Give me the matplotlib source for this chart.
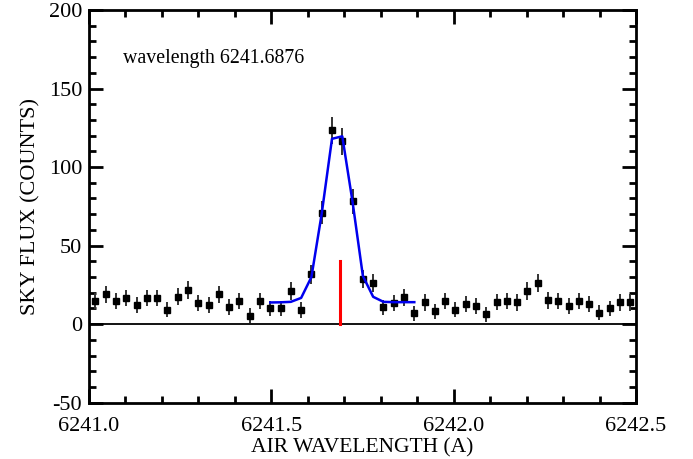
import numpy as np
import matplotlib
matplotlib.use('Agg')
import matplotlib.pyplot as plt
from matplotlib.ticker import MultipleLocator, FormatStrFormatter

plt.rcParams['font.family'] = ['Liberation Serif', 'DejaVu Serif']
plt.rcParams['axes.unicode_minus'] = False

line_center = 6241.6876
line_height = 40.0

# measured sky spectrum around the line
wave = [6241.0176, 6241.0458, 6241.0740, 6241.1022, 6241.1304, 6241.1587,
        6241.1869, 6241.2151, 6241.2433, 6241.2715, 6241.2997, 6241.3279,
        6241.3561, 6241.3843, 6241.4125, 6241.4408, 6241.4690, 6241.4972,
        6241.5254, 6241.5536, 6241.5818, 6241.6100, 6241.6382, 6241.6664,
        6241.6946, 6241.7229, 6241.7511, 6241.7793, 6241.8075, 6241.8357,
        6241.8639, 6241.8921, 6241.9203, 6241.9485, 6241.9767, 6242.0050,
        6242.0332, 6242.0614, 6242.0896, 6242.1178, 6242.1460, 6242.1742,
        6242.2024, 6242.2306, 6242.2588, 6242.2871, 6242.3153, 6242.3435,
        6242.3717, 6242.3999, 6242.4281, 6242.4563, 6242.4845]
flux = [14.6, 19.1, 14.6, 16.7, 12.5, 16.7, 16.7, 9.3, 17.3, 21.6, 13.2, 12.1,
        19.1, 10.8, 14.6, 5.5, 14.6, 10.0, 10.0, 21.0, 8.9, 31.8, 71.0, 123.3,
        116.3, 78.1, 28.6, 26.1, 10.6, 13.2, 17.0, 6.8, 13.8, 8.1, 14.6, 9.3,
        12.7, 11.4, 6.2, 14.2, 14.6, 13.8, 21.0, 26.2, 15.2, 14.6, 11.4, 14.8,
        12.7, 7.2, 10.0, 13.8, 13.8]
err = [5.2, 5.5, 5.2, 5.3, 5.1, 5.3, 5.3, 4.9, 5.4, 5.6, 5.1, 5.1,
       5.5, 5.0, 5.2, 4.6, 5.2, 5.0, 5.0, 5.6, 4.9, 6.0, 7.5, 8.8,
       8.5, 7.7, 5.9, 5.8, 5.0, 5.1, 5.3, 4.7, 5.2, 4.8, 5.2, 4.9,
       5.1, 5.0, 4.7, 5.2, 5.2, 5.2, 5.6, 5.9, 5.3, 5.2, 5.0, 5.3,
       5.1, 4.8, 5.0, 5.2, 5.2]

# gaussian fit, evaluated on the pixels covering the line
fit_wave = wave[17:32]
fit_flux = [13.8, 13.9, 14.2, 16.7, 30.0, 70.3, 118.0, 119.6, 77.7, 30.7,
            17.4, 14.2, 14.0, 14.0, 14.0]

fig = plt.figure(figsize=(6.93, 4.59), dpi=100)
ax = fig.add_axes([0.1284, 0.1227, 0.7893, 0.8555])

ax.axhline(0, color='black', lw=1.3, zorder=1)
ax.errorbar(wave, flux, yerr=err, fmt='s', color='black', ms=4.5,
            ecolor='#333333', elinewidth=1.4, capsize=0, zorder=3)
ax.plot(fit_wave, fit_flux, color='#0000ee', lw=1.8, zorder=4)
ax.plot([line_center, line_center], [0, line_height], color='#ff0000', lw=2.2, zorder=2)

ax.text(6241.094, 166, 'wavelength %.4f' % line_center, fontsize=14.3,
        va='baseline')

ax.set_xlim(6241.0, 6242.5)
ax.set_ylim(-50, 200)
ax.xaxis.set_major_locator(MultipleLocator(0.5))
ax.xaxis.set_minor_locator(MultipleLocator(0.1))
ax.yaxis.set_major_locator(MultipleLocator(50))
ax.yaxis.set_minor_locator(MultipleLocator(10))
ax.xaxis.set_major_formatter(FormatStrFormatter('%.1f'))

for s in ax.spines.values():
    s.set_linewidth(2)
ax.tick_params(which='both', direction='in', top=True, right=True, width=2,
               labelsize=16)
ax.tick_params(which='major', length=10)
ax.tick_params(which='minor', length=5)
ax.tick_params(axis='x', which='major', pad=10)
ax.tick_params(axis='y', which='major', pad=5)

ax.set_xlabel('AIR WAVELENGTH (A)', fontsize=15.5, labelpad=2)
ax.set_ylabel('SKY FLUX (COUNTS)', fontsize=16, labelpad=6)

fig.savefig('out.png', dpi=100)
